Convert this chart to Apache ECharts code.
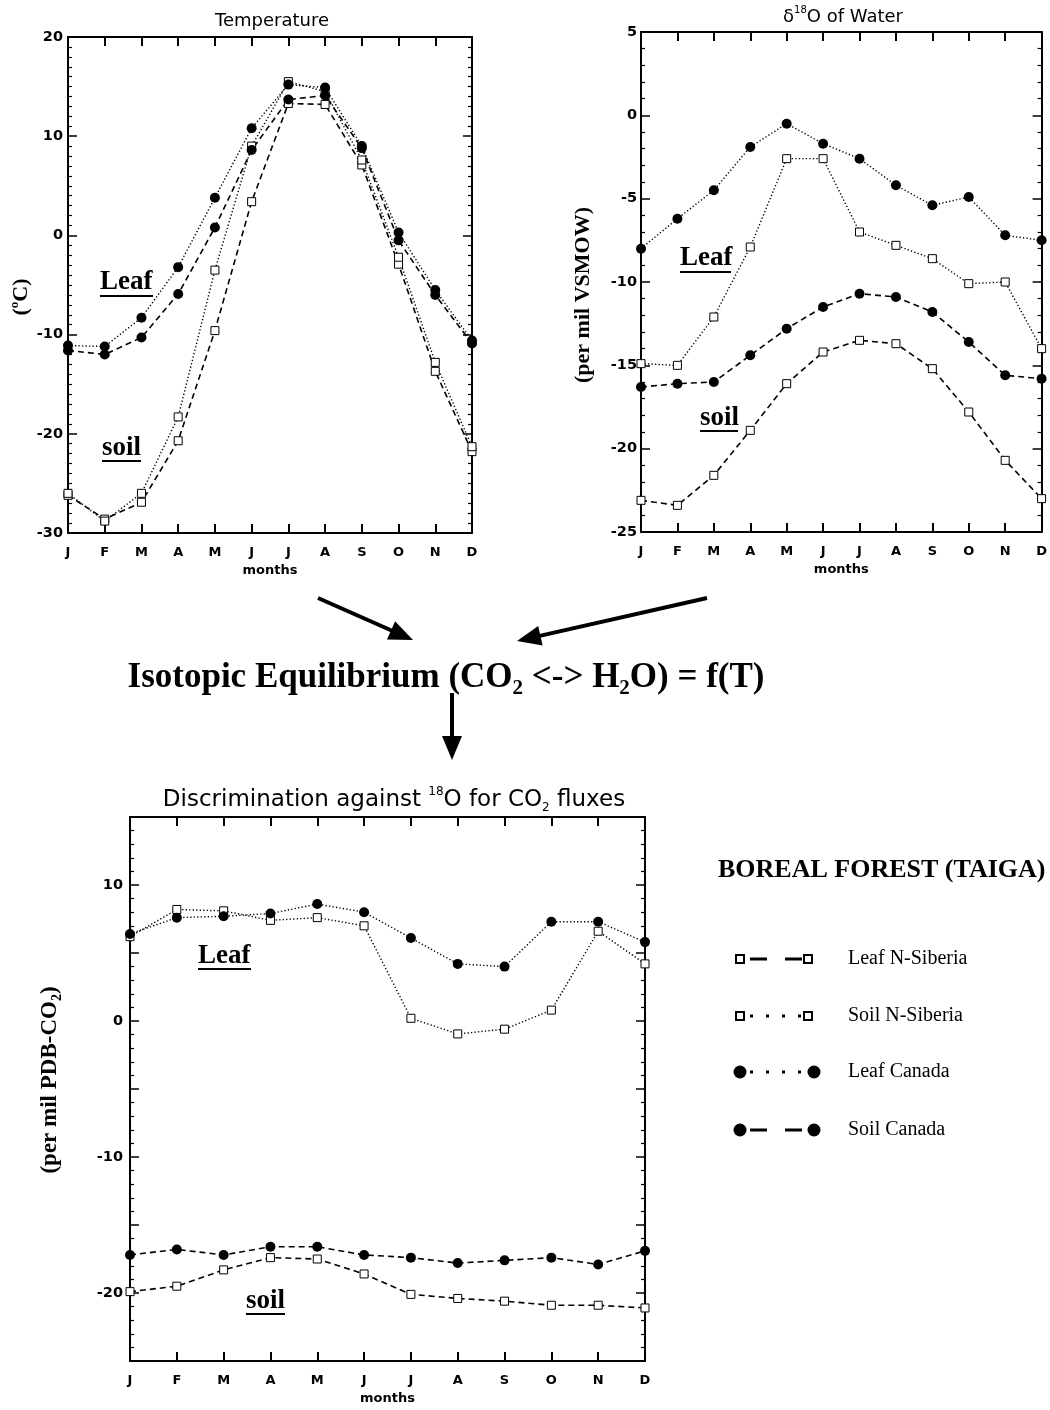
<!DOCTYPE html>
<html>
<head>
<meta charset="utf-8">
<script src="https://cdn.jsdelivr.net/npm/echarts@6/dist/echarts.min.js"></script>
<style>
  html, body { margin: 0; padding: 0; background: #fff; }
  #chart { width: 1050px; height: 1410px; }
</style>
</head>
<body>
<div id="chart"></div>
<script>
// months on the x axis
var months = ['Jan', 'Feb', 'Mar', 'Apr', 'May', 'Jun', 'Jul', 'Aug', 'Sep', 'Oct', 'Nov', 'Dec'];
var monthLabels = ['J', 'F', 'M', 'A', 'M', 'J', 'J', 'A', 'S', 'O', 'N', 'D'];

// Temperature (oC)
var tempLeafSiberia = [-26.2, -28.6, -26.9, -20.7, -9.6, 3.4, 13.3, 13.2, 7.1, -2.9, -13.7, -21.8];
var tempSoilSiberia = [-26.0, -28.8, -26.0, -18.3, -3.5, 9.0, 15.5, 14.5, 7.6, -2.2, -12.8, -21.3];
var tempLeafCanada = [-11.1, -11.2, -8.3, -3.2, 3.8, 10.8, 15.2, 14.9, 9.0, 0.3, -5.5, -10.6];
var tempSoilCanada = [-11.6, -12.0, -10.3, -5.9, 0.8, 8.6, 13.7, 14.1, 8.8, -0.5, -6.0, -10.9];

// d18O of water (per mil VSMOW)
var waterLeafSiberia = [-23.1, -23.4, -21.6, -18.9, -16.1, -14.2, -13.5, -13.7, -15.2, -17.8, -20.7, -23.0];
var waterSoilSiberia = [-14.9, -15.0, -12.1, -7.9, -2.6, -2.6, -7.0, -7.8, -8.6, -10.1, -10.0, -14.0];
var waterLeafCanada = [-8.0, -6.2, -4.5, -1.9, -0.5, -1.7, -2.6, -4.2, -5.4, -4.9, -7.2, -7.5];
var waterSoilCanada = [-16.3, -16.1, -16.0, -14.4, -12.8, -11.5, -10.7, -10.9, -11.8, -13.6, -15.6, -15.8];

// discrimination against 18O for CO2 fluxes (per mil PDB-CO2)
var discLeafSiberia = [-19.9, -19.5, -18.3, -17.4, -17.5, -18.6, -20.1, -20.4, -20.6, -20.9, -20.9, -21.1];
var discSoilSiberia = [6.2, 8.2, 8.1, 7.4, 7.6, 7.0, 0.2, -0.95, -0.6, 0.8, 6.6, 4.2];
var discLeafCanada = [6.4, 7.6, 7.7, 7.9, 8.6, 8.0, 6.1, 4.2, 4.0, 7.3, 7.3, 5.8];
var discSoilCanada = [-17.2, -16.8, -17.2, -16.6, -16.6, -17.2, -17.4, -17.8, -17.6, -17.4, -17.9, -16.9];

var seriesNames = ['Leaf N-Siberia', 'Soil N-Siberia', 'Leaf Canada', 'Soil Canada'];

var sans = '"DejaVu Sans", sans-serif';
var serif = '"Liberation Serif", "Times New Roman", serif';

// line look of each series (same in all three panels)
var looks = {
    'Leaf N-Siberia': { symbol: 'rect', dash: 'dashed' },
    'Soil N-Siberia': { symbol: 'rect', dash: 'dotted' },
    'Leaf Canada': { symbol: 'circle', dash: 'dotted' },
    'Soil Canada': { symbol: 'circle', dash: 'dashed' }
};

var chart = echarts.init(document.getElementById('chart'));

var grids = [
    { left: 68, top: 37, width: 404, height: 496 },
    { left: 641, top: 32, width: 401, height: 500 },
    { left: 130, top: 817, width: 515, height: 544 }
];

function xAxes(g, labelMargin) {
    var common = {
        type: 'category',
        gridIndex: g,
        data: months,
        boundaryGap: false,
        axisLine: { onZero: false, lineStyle: { color: '#000', width: 2 } },
        axisTick: { inside: true, length: 9, lineStyle: { color: '#000', width: 2 } },
        splitLine: { show: false }
    };
    var bottom = Object.assign({}, common, {
        position: 'bottom',
        axisLabel: {
            formatter: function (v, i) { return monthLabels[i]; },
            color: '#000', fontFamily: sans, fontWeight: 'bold', fontSize: 13, margin: labelMargin
        },
        name: 'months',
        nameLocation: 'middle',
        nameGap: 31,
        nameTextStyle: { color: '#000', fontFamily: sans, fontWeight: 'bold', fontSize: 13 }
    });
    var top = Object.assign({}, common, { position: 'top', axisLabel: { show: false } });
    return [bottom, top];
}

function yAxes(g, min, max, interval, minorSplit, labelMargin, labelEvery) {
    var common = {
        type: 'value',
        gridIndex: g,
        min: min,
        max: max,
        interval: interval,
        axisLine: { show: true, onZero: false, lineStyle: { color: '#000', width: 2 } },
        axisTick: { show: true, inside: true, length: 9, lineStyle: { color: '#000', width: 1.5 } },
        minorTick: { show: true, splitNumber: minorSplit, length: 4, lineStyle: { color: '#000', width: 1.2 } },
        splitLine: { show: false },
        minorSplitLine: { show: false }
    };
    var left = Object.assign({}, common, {
        position: 'left',
        axisLabel: {
            color: '#000', fontFamily: sans, fontWeight: 'bold', fontSize: 14.5, margin: labelMargin,
            formatter: function (v) { return (v % labelEvery === 0) ? String(v) : ''; }
        }
    });
    var right = Object.assign({}, common, { position: 'right', axisLabel: { show: false } });
    return [left, right];
}

var xAxis = [].concat(xAxes(0, 13), xAxes(1, 13), xAxes(2, 13));
var yAxis = [].concat(
    yAxes(0, -30, 20, 10, 10, 5, 10),
    yAxes(1, -25, 5, 5, 5, 4, 5),
    yAxes(2, -25, 15, 5, 5, 7, 10)
);

var panels = [
    [tempLeafSiberia, tempSoilSiberia, tempLeafCanada, tempSoilCanada],
    [waterLeafSiberia, waterSoilSiberia, waterLeafCanada, waterSoilCanada],
    [discLeafSiberia, discSoilSiberia, discLeafCanada, discSoilCanada]
];

var series = [];
panels.forEach(function (arrs, g) {
    arrs.forEach(function (values, k) {
        var name = seriesNames[k];
        var look = looks[name];
        var isRect = look.symbol === 'rect';
        series.push({
            name: name,
            type: 'line',
            xAxisIndex: g * 2,
            yAxisIndex: g * 2,
            data: values,
            symbol: look.symbol,
            symbolSize: isRect ? 8 : 10,
            showAllSymbol: true,
            clip: false,
            itemStyle: isRect
                ? { color: '#fff', borderColor: '#000', borderWidth: 1 }
                : { color: '#000', borderColor: '#000', borderWidth: 0 },
            lineStyle: look.dash === 'dashed'
                ? { color: '#000', width: 1.6, type: [6, 4] }
                : { color: '#000', width: 1.4, type: [1.3, 2.2] },
            emphasis: { disabled: true }
        });
    });
});

// ---- graphic helpers ----
function txt(x, y, text, style, rotation) {
    return {
        type: 'text',
        x: x, y: y,
        rotation: rotation || 0,
        style: Object.assign({
            text: text,
            fill: '#000',
            align: 'center', textAlign: 'center',
            verticalAlign: 'middle', textVerticalAlign: 'middle'
        }, style)
    };
}

function tag(x, y, text) {
    // bold serif label (x = left edge)
    return {
        type: 'text', x: x, y: y,
        style: {
            text: text, fill: '#000',
            fontFamily: serif, fontWeight: 'bold', fontSize: 27,
            align: 'left', textAlign: 'left', verticalAlign: 'middle', textVerticalAlign: 'middle'
        }
    };
}

function rule(x1, x2, y) {
    return { type: 'line', shape: { x1: x1, y1: y, x2: x2, y2: y }, style: { stroke: '#000', lineWidth: 2 } };
}

function arrow(x1, y1, x2, y2) {
    var dx = x2 - x1, dy = y2 - y1, L = Math.sqrt(dx * dx + dy * dy);
    var ux = dx / L, uy = dy / L, hl = 24, hw = 10;
    var bx = x2 - ux * hl, by = y2 - uy * hl;
    return [
        { type: 'line', shape: { x1: x1, y1: y1, x2: bx + ux * 3, y2: by + uy * 3 }, style: { stroke: '#000', lineWidth: 4 } },
        { type: 'polygon', shape: { points: [[x2, y2], [bx - uy * hw, by + ux * hw], [bx + uy * hw, by - ux * hw]] }, style: { fill: '#000' } }
    ];
}

function legendMarker(kind, cx, cy) {
    if (kind === 'rect') {
        return { type: 'rect', shape: { x: cx - 4, y: cy - 4, width: 8, height: 8 }, style: { fill: '#fff', stroke: '#000', lineWidth: 2 } };
    }
    return { type: 'circle', shape: { cx: cx, cy: cy, r: 6.5 }, style: { fill: '#000' } };
}

var graphic = [];

// panel titles
graphic.push(txt(272, 21, 'Temperature', { fontFamily: sans, fontSize: 18 }));
graphic.push(txt(843, 17, 'δ{sup|18}O of Water', {
    fontFamily: sans, fontSize: 18, lineHeight: 24,
    rich: { sup: { fontFamily: sans, fontSize: 10, verticalAlign: 'top', lineHeight: 10 } }
}));
graphic.push(txt(394, 800, 'Discrimination against {sup|18}O for CO{sub|2} fluxes', {
    fontFamily: sans, fontSize: 23, lineHeight: 28,
    rich: {
        sup: { fontFamily: sans, fontSize: 12, verticalAlign: 'top', lineHeight: 12 },
        sub: { fontFamily: sans, fontSize: 12, verticalAlign: 'bottom', lineHeight: 12 }
    }
}));

// y axis titles
graphic.push(txt(21, 297, '({sup|o}C)', {
    fontFamily: serif, fontWeight: 'bold', fontSize: 22, lineHeight: 26,
    rich: { sup: { fontFamily: serif, fontWeight: 'bold', fontSize: 13, verticalAlign: 'top', lineHeight: 13 } }
}, Math.PI / 2));
graphic.push(txt(583, 295, '(per mil VSMOW)', { fontFamily: serif, fontWeight: 'bold', fontSize: 22 }, Math.PI / 2));
graphic.push(txt(50, 1080, '(per mil PDB-CO{sub|2})', {
    fontFamily: serif, fontWeight: 'bold', fontSize: 23, lineHeight: 28,
    rich: { sub: { fontFamily: serif, fontWeight: 'bold', fontSize: 14, verticalAlign: 'bottom', lineHeight: 14 } }
}, Math.PI / 2));

// Leaf / soil tags with their rules
graphic.push(
    tag(100, 282, 'Leaf'), rule(100, 153, 296),
    tag(102, 448, 'soil'), rule(102, 141, 461),
    tag(680, 258, 'Leaf'), rule(680, 731, 272),
    tag(700, 418, 'soil'), rule(700, 738, 431),
    tag(198, 956, 'Leaf'), rule(198, 251, 969),
    tag(246, 1301, 'soil'), rule(246, 285, 1314)
);

// arrows and the equilibrium statement
graphic = graphic.concat(arrow(318, 598, 413, 640), arrow(707, 598, 517, 641), arrow(452, 693, 452, 760));
graphic.push(txt(446, 678, 'Isotopic Equilibrium (CO{sub|2} <-> H{sub|2}O) = f(T)', {
    fontFamily: serif, fontWeight: 'bold', fontSize: 35, lineHeight: 42,
    rich: { sub: { fontFamily: serif, fontWeight: 'bold', fontSize: 21, verticalAlign: 'bottom', lineHeight: 21 } }
}));

// legend block
graphic.push({
    type: 'text', x: 718, y: 870,
    style: {
        text: 'BOREAL FOREST (TAIGA)', fill: '#000', fontFamily: serif, fontWeight: 'bold', fontSize: 26,
        align: 'left', textAlign: 'left', verticalAlign: 'middle', textVerticalAlign: 'middle'
    }
});
var legendY = [959, 1016, 1072, 1130];
seriesNames.forEach(function (name, k) {
    var look = looks[name];
    var y = legendY[k];
    var dashed = look.dash === 'dashed';
    var endX = look.symbol === 'rect' ? 808 : 814;
    graphic.push({
        type: 'line',
        shape: { x1: 750, y1: y, x2: endX - 5, y2: y },
        style: { stroke: '#000', lineWidth: 3, lineDash: dashed ? [17, 18] : [3, 13] }
    });
    graphic.push(legendMarker(look.symbol, 740, y));
    graphic.push(legendMarker(look.symbol, endX, y));
    graphic.push({
        type: 'text', x: 848, y: y,
        style: {
            text: name, fill: '#000', fontFamily: serif, fontSize: 20,
            align: 'left', textAlign: 'left', verticalAlign: 'middle', textVerticalAlign: 'middle'
        }
    });
});

var option = {
    animation: false,
    backgroundColor: '#fff',
    grid: grids,
    xAxis: xAxis,
    yAxis: yAxis,
    series: series,
    graphic: graphic
};

chart.setOption(option);
</script>
</body>
</html>
